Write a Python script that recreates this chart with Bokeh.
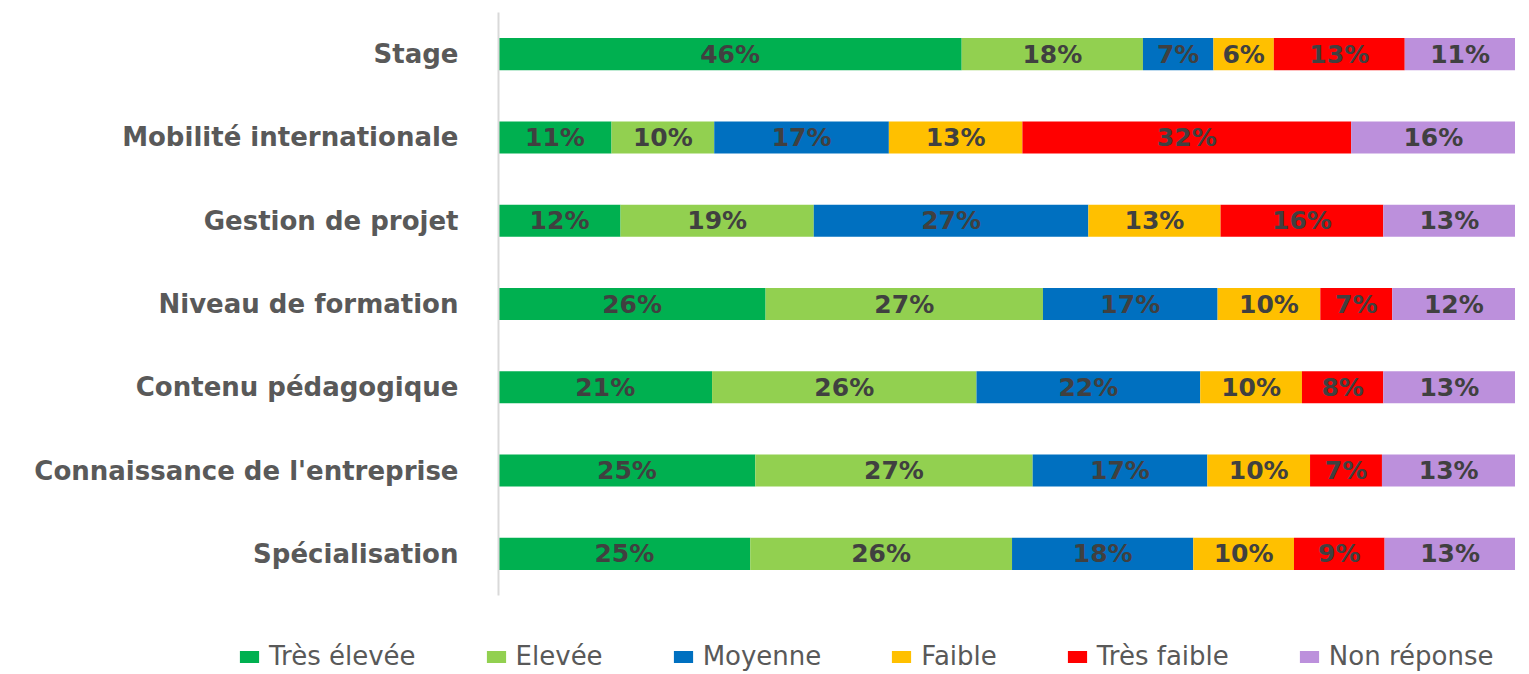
from bokeh.plotting import figure
from bokeh.models import ColumnDataSource, Legend, LegendItem, FactorRange, Range1d
from bokeh.layouts import column, row
from bokeh.core.properties import value
from bokeh.embed import file_html
from bokeh.resources import INLINE

categories = ["Stage", "Mobilité internationale", "Gestion de projet", "Niveau de formation",
              "Contenu pédagogique", "Connaissance de l'entreprise", "Spécialisation"]
series = ["Très élevée", "Elevée", "Moyenne", "Faible", "Très faible", "Non réponse"]
tres_elevee = [46, 11, 12, 26, 21, 25, 25]
elevee = [18, 10, 19, 27, 26, 27, 26]
moyenne = [7, 17, 27, 17, 22, 17, 18]
faible = [6, 13, 13, 10, 10, 10, 10]
tres_faible = [13, 32, 16, 7, 8, 7, 9]
non_reponse = [11, 16, 13, 12, 13, 13, 13]
colors = ["#00B050", "#92D050", "#0070C0", "#FFC000", "#FF0000", "#BC90DC"]

values = [tres_elevee, elevee, moyenne, faible, tres_faible, non_reponse]
totals = [sum(v[i] for v in values) for i in range(len(categories))]

FONT = "DejaVu Sans"

p = figure(width=1515, height=600, output_backend="svg", toolbar_location=None,
           y_range=FactorRange(factors=list(reversed(categories))),
           x_range=Range1d(0, 1),
           min_border_left=498, min_border_right=0, min_border_top=12, min_border_bottom=5)
p.background_fill_color = "white"
p.border_fill_color = "white"
p.outline_line_color = None
p.xgrid.visible = False
p.ygrid.visible = False
p.xaxis.visible = False

ya = p.yaxis[0]
ya.axis_line_color = "#D9D9D9"
ya.axis_line_width = 2
ya.major_tick_line_color = None
ya.minor_tick_line_color = None
ya.major_label_standoff = 34
ya.major_label_text_font = FONT
ya.major_label_text_font_style = "bold"
ya.major_label_text_font_size = "26px"
ya.major_label_text_color = "#595959"

# legend figure
lf = figure(width=1515, height=72, output_backend="svg", toolbar_location=None,
            x_range=Range1d(0, 1), y_range=Range1d(0, 1),
            min_border_left=0, min_border_right=0, min_border_top=0, min_border_bottom=0)
lf.outline_line_color = None
lf.xaxis.visible = False
lf.yaxis.visible = False
lf.xgrid.visible = False
lf.ygrid.visible = False
lf.border_fill_color = "white"

cum = [0.0] * len(categories)
items = []
for name, vals, col in zip(series, values, colors):
    left = [cum[i] for i in range(len(categories))]
    right = [cum[i] + vals[i] / totals[i] for i in range(len(categories))]
    cum = right
    src = ColumnDataSource(dict(cat=categories, left=left, right=right,
                                mid=[(l + r) / 2 for l, r in zip(left, right)],
                                lab=[f"{v}%" for v in vals]))
    p.hbar(y="cat", left="left", right="right", height=0.385, source=src,
           fill_color=col, line_color=None)
    p.text(x="mid", y="cat", text="lab", source=src, text_align="center",
           text_baseline="middle", text_font=value(FONT), text_font_style="bold",
           text_font_size="25px", text_color="#404040")
    # off-range proxy bar: only used to draw the legend swatch
    lr = lf.hbar(y=[5], left=[5], right=[6], height=0.5, fill_color=col, line_color=None)
    items.append(LegendItem(label=name, renderers=[lr]))

legend = Legend(items=items, orientation="horizontal", location=(237, 1),
                glyph_width=24, glyph_height=15, label_standoff=8, spacing=68,
                padding=0, margin=0, border_line_color=None, background_fill_alpha=0,
                label_text_font=FONT, label_text_font_size="26px", label_text_color="#595959",
                label_height=26)
lf.add_layout(legend, "center")

layout = column(p, row(lf), spacing=0)
open("out.html", "w").write(file_html(layout, INLINE))
